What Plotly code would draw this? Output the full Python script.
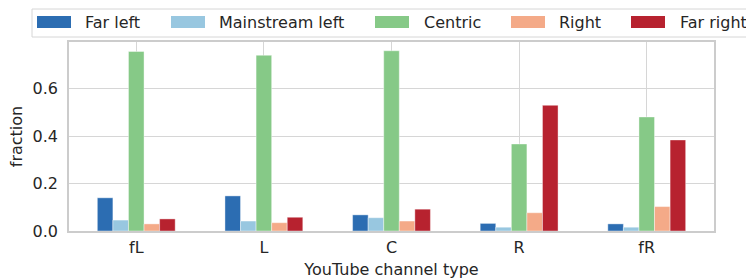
import plotly.graph_objects as go

categories = ["fL", "L", "C", "R", "fR"]
series_names = ["Far left", "Mainstream left", "Centric", "Right", "Far right"]
far_left = [0.140, 0.148, 0.068, 0.032, 0.030]
mainstream_left = [0.046, 0.042, 0.056, 0.016, 0.016]
centric = [0.757, 0.741, 0.760, 0.367, 0.481]
right = [0.030, 0.035, 0.042, 0.077, 0.103]
far_right = [0.051, 0.058, 0.092, 0.530, 0.384]
y_ticks = [0.0, 0.2, 0.4, 0.6]

colors = ["#2c6db2", "#98c7e0", "#86c987", "#f4aa88", "#b7222f"]
values = [far_left, mainstream_left, centric, right, far_right]

W, H = 746, 280
ML, MR, MT, MB = 69, 32, 42, 49
PW, PH = W - ML - MR, H - MT - MB
TEXT = "#262626"
FONT = "DejaVu Sans"


def px(x):
    return (x - ML) / PW


def py(y):
    return (H - MB - y) / PH


fig = go.Figure()
for name, vals, col in zip(series_names, values, colors):
    fig.add_trace(go.Bar(
        x=categories, y=vals, name=name, showlegend=False,
        marker=dict(color=col, line=dict(color="rgba(255,255,255,0.5)", width=0.8)),
    ))

# custom legend (matplotlib-style wide patches)
shapes = [dict(type="rect", xref="paper", yref="paper",
               x0=px(32), x1=px(770), y0=py(37), y1=py(9),
               line=dict(color="#d6d6d6", width=1), fillcolor="white", layer="above")]
annotations = []
patch_x = [37, 171, 375, 511, 631]
text_x = [83, 217, 422, 557, 678]
for name, col, p, t in zip(series_names, colors, patch_x, text_x):
    shapes.append(dict(type="rect", xref="paper", yref="paper",
                       x0=px(p), x1=px(p + 34), y0=py(28), y1=py(16),
                       line=dict(width=0), fillcolor=col, layer="above"))
    annotations.append(dict(xref="paper", yref="paper", x=px(t), y=py(22.5),
                            xanchor="left", yanchor="middle", showarrow=False,
                            text=name, font=dict(family=FONT, size=16, color=TEXT)))

fig.update_layout(
    width=W, height=H,
    margin=dict(l=ML, r=MR, t=MT, b=MB, autoexpand=False),
    paper_bgcolor="white", plot_bgcolor="white",
    barmode="group", bargap=0.39, bargroupgap=0,
    font=dict(family=FONT, size=16, color=TEXT),
    shapes=shapes, annotations=annotations,
)
fig.update_xaxes(
    range=[-0.527, 4.527], showgrid=True, gridcolor="#d6d6d6", gridwidth=1,
    showline=True, mirror=True, linecolor="#cccccc", linewidth=1.5,
    ticks="outside", ticklen=1, tickcolor="rgba(0,0,0,0)",
    tickfont=dict(size=16, color=TEXT),
    title=dict(text="YouTube channel type", standoff=8, font=dict(size=16, color=TEXT)),
)
fig.update_yaxes(
    range=[0, 0.797], tickvals=y_ticks, tickformat=".1f",
    showgrid=True, gridcolor="#d6d6d6", gridwidth=1, zeroline=False,
    showline=True, mirror=True, linecolor="#cccccc", linewidth=1.5,
    ticks="outside", ticklen=6, tickcolor="rgba(0,0,0,0)",
    tickfont=dict(size=16, color=TEXT),
    title=dict(text="fraction", standoff=6, font=dict(size=16, color=TEXT)),
)

fig.write_html("out.html", config={"displayModeBar": False},
               post_script="document.body.style.margin='0';")
